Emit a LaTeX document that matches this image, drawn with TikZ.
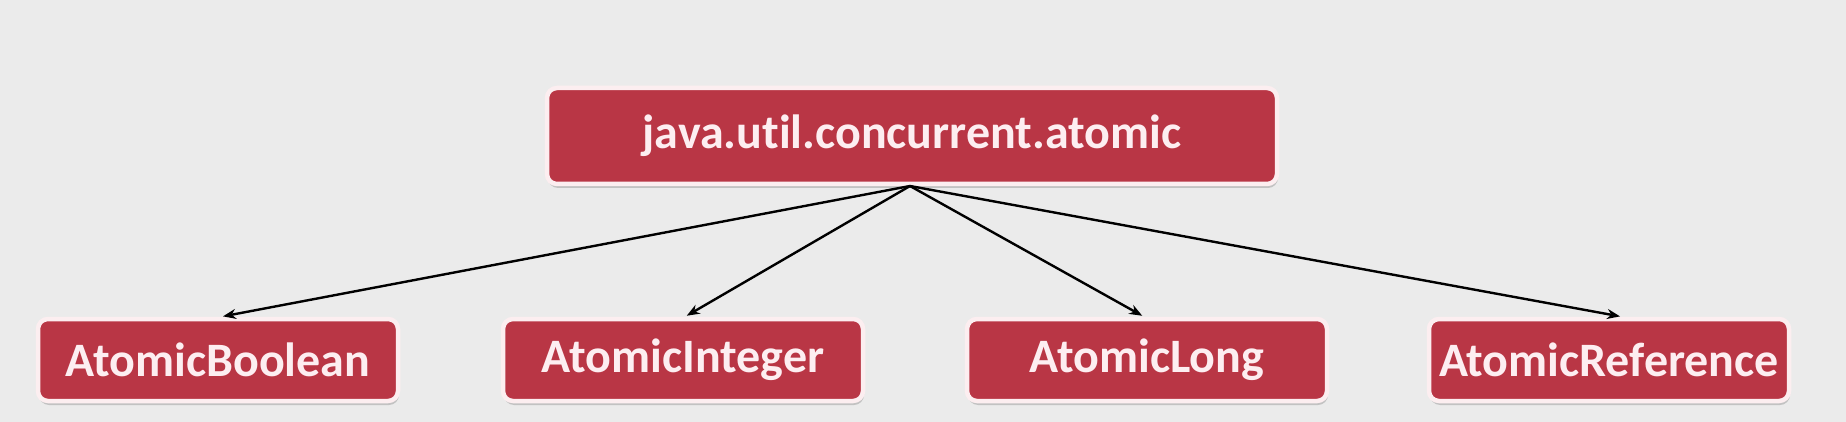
\documentclass[tikz,border=0pt]{standalone}
\usepackage{fontspec}
\setmainfont{Carlito}[Ligatures={NoCommon}]
\usetikzlibrary{shadows,arrows.meta}
\definecolor{bg}{HTML}{EBEBEB}
\definecolor{boxred}{HTML}{B93645}
\definecolor{boxrim}{HTML}{FCEEF0}
\definecolor{txt}{HTML}{FDEEF1}
\tikzset{
  cls/.style={draw=boxrim, line width=4.5pt, fill=boxred, rounded corners=10pt,
    minimum height=82pt, inner sep=0pt, text=txt,
    font=\fontsize{48}{56}\selectfont\bfseries,
    drop shadow={shadow xshift=1pt, shadow yshift=-4pt, opacity=0.3, fill=black!60}},
  link/.style={line width=2.4pt, -{Stealth[length=13pt,width=10pt]}, shorten >=2pt}
}
\begin{document}
\begin{tikzpicture}[x=1pt,y=-1pt]
\fill[bg] (0,0) rectangle (1846,422);
\useasboundingbox (0,0) rectangle (1846,422);
\node[cls, minimum width=730pt, minimum height=96pt] (pkg) at (912,136) {java.util.concurrent.atomic};
\node[cls, minimum width=360pt] (b) at (218,360) {AtomicBoolean};
\node[cls, minimum width=360pt] (i) at (683,360) {AtomicInteger};
\node[cls, minimum width=360pt] (l) at (1147,360) {AtomicLong};
\node[cls, minimum width=360pt] (r) at (1609,360) {AtomicReference};
\coordinate (src) at (910,186);
\draw[link] (src) -- ([xshift=3pt]b.north);
\draw[link] (src) -- ([xshift=2pt]i.north);
\draw[link] (src) -- ([xshift=-3pt]l.north);
\draw[link] (src) -- ([xshift=13pt]r.north);
\end{tikzpicture}
\end{document}
